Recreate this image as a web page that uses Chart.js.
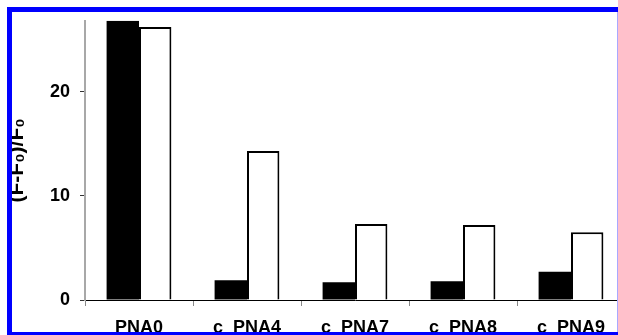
<!DOCTYPE html>
<html>
<head>
<meta charset="utf-8">
<script src="https://cdn.jsdelivr.net/npm/chart.js@4/dist/chart.umd.min.js"></script>
<style>
    html, body { margin: 0; padding: 0; background: #fff; overflow: hidden; }
    #wrap { position: relative; width: 618px; height: 335px; overflow: hidden; }
    #box { position: absolute; left: 0; top: 0; width: 640px; height: 335px; }
    .edge { position: absolute; background: #0000ff; }
</style>
</head>
<body>
<div id="wrap">
    <div id="box"><canvas id="fluoChart" width="640" height="335"></canvas></div>
    <div class="edge" style="left:7px;top:7px;width:611px;height:5px"></div>
    <div class="edge" style="left:7px;top:7px;width:5px;height:328px"></div>
    <div class="edge" style="left:7px;top:332px;width:611px;height:3px"></div>
    <div class="edge" style="left:617px;top:12px;width:1px;height:320px;background:#a8a8ff"></div>
</div>
<script>
// values
const probes = ["PNA0", "c_PNA4", "c_PNA7", "c_PNA8", "c_PNA9"];
const filledValues = [26.8, 1.9, 1.7, 1.8, 2.7];
const openValues = [26.2, 14.3, 7.3, 7.2, 6.5];
const yTicks = [0, 10, 20];

const font = "Arial, 'Liberation Sans', sans-serif";

const ctx = document.getElementById("fluoChart");

new Chart(ctx, {
    type: "bar",
    data: {
        labels: probes,
        datasets: [{
            data: filledValues,
            backgroundColor: "#000",
            borderColor: "#000",
            borderWidth: 0
        }, {
            data: openValues,
            backgroundColor: "#fff",
            borderColor: "#000",
            borderWidth: 2
        }]
    },
    options: {
        responsive: false,
        animation: false,
        categoryPercentage: 0.6,
        barPercentage: 1.0,
        layout: { padding: { top: 12, right: 15, left: 0, bottom: 0 } },
        plugins: {
            legend: { display: false },
            tooltip: { enabled: false }
        },
        scales: {
            x: {
                afterFit: s => { s.height = 35; },
                grid: {
                    offset: true,
                    drawOnChartArea: false,
                    tickLength: 6,
                    color: "#888"
                },
                border: { color: "#000", width: 1 },
                ticks: {
                    color: "#000",
                    padding: 11,
                    maxRotation: 0,
                    font: { family: font, size: 18, weight: "bold" }
                }
            },
            y: {
                min: 0,
                max: 26.8,
                afterFit: s => { s.width = 85; },
                afterBuildTicks: s => { s.ticks = yTicks.map(v => ({ value: v })); },
                grid: {
                    drawOnChartArea: false,
                    tickLength: 5,
                    color: "#333"
                },
                border: { color: "#a8a8a8", width: 2 },
                ticks: {
                    color: "#000",
                    padding: 10,
                    font: { family: font, size: 18, weight: "bold" }
                },
                title: {
                    display: true,
                    text: "(F-F\u2080)/F\u2080",
                    color: "#000",
                    padding: { top: 5, bottom: 0 },
                    font: { family: font, size: 21, weight: "bold" }
                }
            }
        }
    }
});
</script>
</body>
</html>
